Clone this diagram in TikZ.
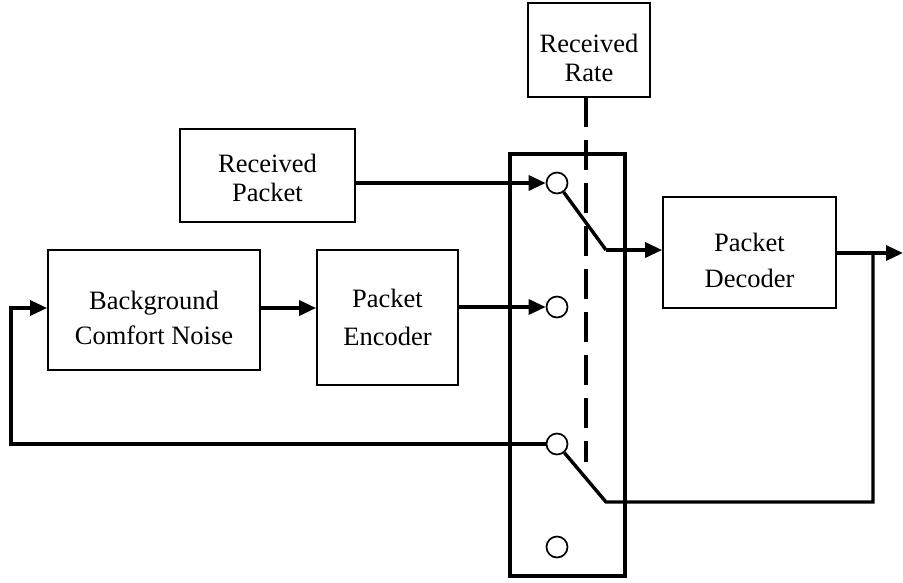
\documentclass[tikz,border=0pt]{standalone}
\usepackage{fontspec}
\setmainfont{Liberation Serif}
\usetikzlibrary{arrows.meta}
\begin{document}
\begin{tikzpicture}[x=1pt,y=-1pt,
  blk/.style={draw,line width=1.8pt,inner sep=0pt},
  txt/.style={align=center,inner sep=0pt,font=\fontsize{26.5}{#1}\selectfont},
  txt/.default=29,
  conn/.style={line width=3.4pt},
  arr/.style={conn,-{Triangle[length=17pt,width=15pt]}},
  sw/.style={circle,draw,line width=1.7pt,minimum size=21pt,inner sep=0pt,fill=white}]
\useasboundingbox (0,0) rectangle (903,582);
% blocks
\node[blk,minimum width=122pt,minimum height=94pt] (rr) at (589,50) {};
\node[txt] (rrt) at (589,58.4) {Received\\Rate};
\node[blk,minimum width=175pt,minimum height=93pt] (rp) at (267.5,175.5) {};
\node[txt] (rpt) at (267.5,178.4) {Received\\Packet};
\node[blk,minimum width=212pt,minimum height=120pt] (bcn) at (154,310) {};
\node[txt=35] (bcnt) at (154,318.4) {Background\\Comfort Noise};
\node[blk,minimum width=141pt,minimum height=135pt] (pe) at (387.5,317.5) {};
\node[txt=38] (pet) at (387.5,317.9) {Packet\\Encoder};
\node[blk,minimum width=173pt,minimum height=111pt] (pd) at (749.5,252.5) {};
\node[txt=36] (pdt) at (749.5,260.9) {Packet\\Decoder};
% switch housing
\node[draw,line width=3.2pt,minimum width=115pt,minimum height=422pt,inner sep=0pt] (swbox) at (567.5,365) {};
% control (dashed)
\coordinate (dtop) at (586,97);
\coordinate (dbot) at (586,462);
\draw[conn,dash pattern=on 30pt off 13pt] (dtop) -- (dbot);
% contacts
\node[sw] (c1) at (557,183) {};
\node[sw] (c2) at (557,307) {};
\node[sw] (c3) at (557,444) {};
\node[sw] (c4) at (557,547) {};
\coordinate (b1) at (606,250);
\coordinate (b2) at (606,502);
\coordinate (j) at (873,253);
\coordinate (out) at (903,253);
\coordinate (fbl) at (11,444);
\coordinate (fbu) at (11,308);
% connectors
\draw[arr] (rp.east |- c1) -- (c1);
\draw[arr] (pe.east |- c2) -- (c2);
\draw[arr] (bcn.east |- fbu) -- (pe.west |- fbu);
\draw[conn] (c1) -- (b1);
\draw[arr] (b1) -- (b1 -| pd.west);
\draw[arr] (pd.east |- j) -- (out);
\draw[conn] (c3) -- (b2) -- (b2 -| j) -- (j);
\draw[arr] (c3.west) -- (fbl) -- (fbu) -- (bcn.west |- fbu);
\end{tikzpicture}
\end{document}
